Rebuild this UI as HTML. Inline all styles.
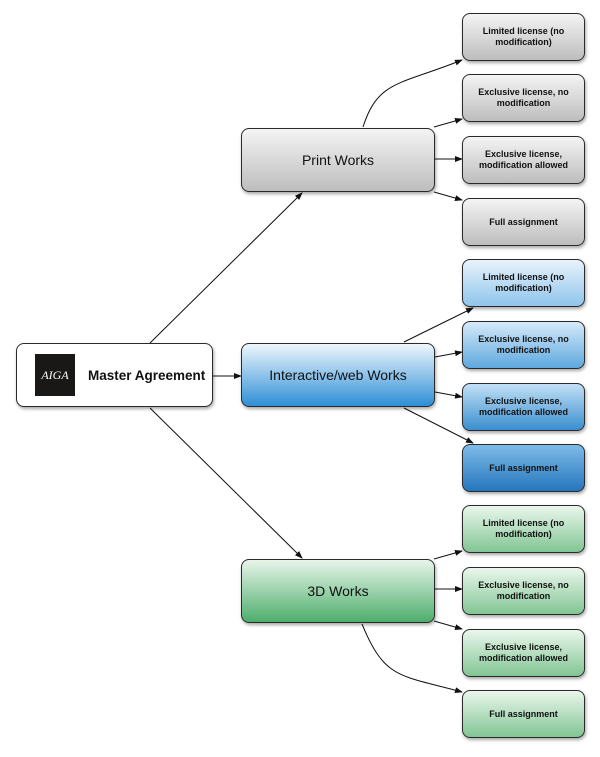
<!DOCTYPE html>
<html><head><meta charset="utf-8"><style>
body{margin:0;background:#fff;width:600px;height:757px;position:relative;overflow:hidden;font-family:"Liberation Sans",Arial,sans-serif}
.b{position:absolute;box-sizing:border-box;border:1.8px solid #2a2a2a;border-radius:8px;display:flex;align-items:center;justify-content:center;text-align:center;color:#111;box-shadow:1px 2px 3px rgba(0,0,0,.35)}
.m{left:241px;width:194px;height:64px;font-size:14px}
.l{left:462px;width:123px;height:48px;font-size:9px;font-weight:bold;line-height:11px;padding:0 8px}
.g{background:linear-gradient(#f4f4f4,#bdbdbd)}
.bl0{background:linear-gradient(#e8f3fb,#8fc5ec)}
.bl1{background:linear-gradient(#d5eaf9,#5ea8df)}
.bl2{background:linear-gradient(#c2e0f6,#3a8fd0)}
.bl3{background:linear-gradient(#7fbbe8,#2476bd)}
.blm{background:linear-gradient(#eef7fd,#2f8fd6)}
.gr{background:linear-gradient(#eaf7ec,#82c594)}
.grm{background:linear-gradient(#e8f5ea,#4dae6c)}
</style></head><body>
<svg width="600" height="757" style="position:absolute;left:0;top:0">
<defs><marker id="a" markerWidth="8" markerHeight="6" refX="7" refY="3" orient="auto" markerUnits="userSpaceOnUse"><path d="M0,0 L8,3 L0,6 z" fill="#111"/></marker></defs>
<g stroke="#111" stroke-width="1" fill="none" marker-end="url(#a)">
<path d="M150,343 L302,193"/><path d="M213,376 L241,376"/><path d="M150,408 L302,558"/>
<path d="M363,127 C378,80 400,85 462,60"/><path d="M434,127 L462,119"/><path d="M435,159 L462,159"/><path d="M434,192 L462,200"/>
<path d="M404,342 L473,308"/><path d="M435,357 L462,352"/><path d="M435,392 L462,397"/><path d="M404,408 L473,443"/>
<path d="M434,559 L462,551"/><path d="M435,589 L462,589"/><path d="M434,621 L462,629"/><path d="M362,624 C385,680 400,675 462,692"/>
</g></svg>
<div class="b" style="left:16px;top:343px;width:197px;height:64px;background:#fff;justify-content:flex-start">
<div style="margin-left:18px;width:40px;height:42px;background:#1a1717;color:#fff;font-family:'Liberation Serif',serif;font-style:italic;font-size:12px;display:flex;align-items:center;justify-content:center">AIGA</div>
<div style="margin-left:13px;font-weight:bold;font-size:13.5px">Master Agreement</div></div>
<div class="b m g" style="top:128px">Print Works</div>
<div class="b m blm" style="top:343px">Interactive/web Works</div>
<div class="b m grm" style="top:559px">3D Works</div>
<div class="b l g" style="top:13px">Limited license (no modification)</div>
<div class="b l g" style="top:74px">Exclusive license, no modification</div>
<div class="b l g" style="top:136px">Exclusive license, modification allowed</div>
<div class="b l g" style="top:198px">Full assignment</div>
<div class="b l bl0" style="top:259px">Limited license (no modification)</div>
<div class="b l bl1" style="top:321px">Exclusive license, no modification</div>
<div class="b l bl2" style="top:383px">Exclusive license, modification allowed</div>
<div class="b l bl3" style="top:444px">Full assignment</div>
<div class="b l gr" style="top:505px">Limited license (no modification)</div>
<div class="b l gr" style="top:567px">Exclusive license, no modification</div>
<div class="b l gr" style="top:629px">Exclusive license, modification allowed</div>
<div class="b l gr" style="top:690px">Full assignment</div>
</body></html>
